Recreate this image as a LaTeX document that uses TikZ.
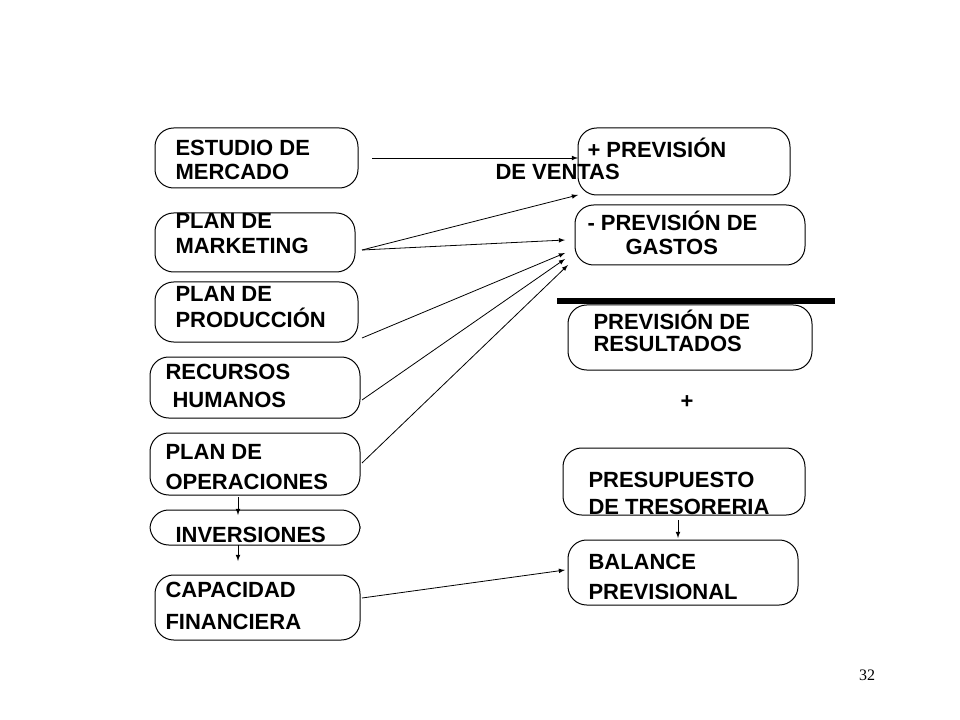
\documentclass[tikz,border=0pt]{standalone}
\usepackage{fontspec}
\setmainfont{Liberation Sans}
\newfontfamily\pagefont{Liberation Serif}
\tikzset{every picture/.style={line width=0.75pt}}
\tikzset{
  box/.style={draw, rounded corners=14pt, inner sep=0pt},
  lbl/.style={anchor=west, inner sep=0pt, font=\fontsize{16.5}{18}\selectfont\bfseries},
  arr/.style={-latex, line width=0.6pt}
}
\begin{document}
\begin{tikzpicture}[x=0.75pt,y=0.75pt,yscale=-1,xscale=1]
\useasboundingbox (0,0) rectangle (960,720);

%Boxes left
\draw[box] (155,128) rectangle (358,188);
\draw[box] (155,213) rectangle (355,272);
\draw[box] (155,282) rectangle (358,342);
\draw[box] (150,357) rectangle (360,418);
\draw[box] (150,433) rectangle (360,495);
\draw[box] (150,510) rectangle (360,545);
\draw[box] (155,575) rectangle (360,640);
%Boxes right
\draw[box] (578,128) rectangle (790,195);
\draw[box] (575,205) rectangle (805,265);
\draw[box] (568,305) rectangle (812,370);
\draw[box] (563,448) rectangle (805,515);
\draw[box] (568,540) rectangle (798,605);
%Bar
\draw[line width=4pt] (557,301) -- (835,301);

%Texts
\node[lbl] (mercado1) at (175,148) {ESTUDIO DE};
\node[lbl] (mercado2) at (175,172) {MERCADO};
\node[lbl] (mkt1) at (175,221) {PLAN DE};
\node[lbl] (mkt2) at (175,246) {MARKETING};
\node[lbl] (prod1) at (175,294) {PLAN DE};
\node[lbl] (prod2) at (175,318) {PRODUCCIÓN};
\node[lbl] (rrhh1) at (165,372) {RECURSOS};
\node[lbl] (rrhh2) at (172,400) {HUMANOS};
\node[lbl] (oper1) at (165,452) {PLAN DE};
\node[lbl] (oper2) at (165,482) {OPERACIONES};
\node[lbl] (inv) at (175,535) {INVERSIONES};
\node[lbl] (cap1) at (165,590) {CAPACIDAD};
\node[lbl] (cap2) at (165,622) {FINANCIERA};
\node[lbl] (vent1) at (587,148) {+ PREVISIÓN};
\node[lbl] (vent2) at (495,172) {DE VENTAS};
\node[lbl] (gast1) at (587,221) {- PREVISIÓN DE};
\node[lbl] (gast2) at (625,247) {GASTOS};
\node[lbl] (res1) at (593,320) {PREVISIÓN DE};
\node[lbl] (res2) at (593,344) {RESULTADOS};
\node[lbl] (plus) at (680,402) {+};
\node[lbl] (tes1) at (588,480) {PRESUPUESTO};
\node[lbl] (tes2) at (588,507) {DE TRESORERIA};
\node[lbl] (bal1) at (588,562) {BALANCE};
\node[lbl] (bal2) at (588,592) {PREVISIONAL};
\node[font=\pagefont\fontsize{12}{14}\selectfont] (page) at (867,675) {32};

%Connector ends
\coordinate (a1) at (372,158); \coordinate (b1) at (578,158);
\coordinate (a2) at (362,250); \coordinate (b2) at (578,195);
\coordinate (b3) at (565,240);
\coordinate (a4) at (362,338); \coordinate (b4) at (565,253);
\coordinate (a5) at (362,400); \coordinate (b5) at (565,259);
\coordinate (a6) at (362,463); \coordinate (b6) at (568,265);
\coordinate (a7) at (238,497); \coordinate (b7) at (238,515);
\coordinate (a8) at (238,545); \coordinate (b8) at (238,561);
\coordinate (a9) at (362,598); \coordinate (b9) at (565,570);
\coordinate (a10) at (678,520); \coordinate (b10) at (678,538);

\foreach \s/\t in {a1/b1,a2/b2,a2/b3,a4/b4,a5/b5,a6/b6,a7/b7,a8/b8,a9/b9,a10/b10}
  \draw[arr] (\s) -- (\t);

\end{tikzpicture}
\end{document}
